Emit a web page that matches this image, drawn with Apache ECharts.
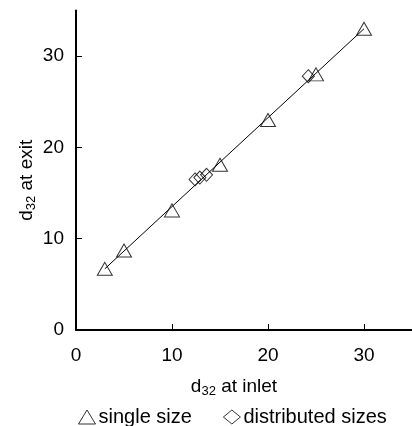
<!DOCTYPE html>
<html>
<head>
<meta charset="utf-8">
<script src="https://cdn.jsdelivr.net/npm/echarts@6/dist/echarts.min.js"></script>
<style>
html,body{margin:0;padding:0;background:#fff;}
#chart{width:412px;height:426px;}
</style>
</head>
<body>
<div id="chart"></div>
<script>
// Sauter mean diameter at inlet vs exit
const singleInlet = [3, 5, 10, 15, 20, 25, 30];
const singleExit = [6.7, 8.7, 13.1, 18.1, 23.0, 28.0, 33.0];
const distInlet = [12.4, 12.9, 13.6, 24.2];
const distExit = [16.5, 16.7, 17.0, 27.8];
const fitInlet = [3, 30];
const fitExit = [6.7, 33.0];
const tickValues = [0, 10, 20, 30];
const seriesNames = ['single size', 'distributed sizes'];

const zip = (a, b) => a.map((v, i) => [v, b[i]]);
const font = 'Liberation Sans, Arial, sans-serif';
const subRich = {
  n: { fontFamily: font, fontSize: 19, color: '#000' },
  s: { fontFamily: font, fontSize: 13, color: '#000', verticalAlign: 'bottom', padding: [9, 0, 0, 0] }
};

const chart = echarts.init(document.getElementById('chart'));
chart.setOption({
  animation: false,
  textStyle: { fontFamily: font },
  grid: { left: 76, top: 10.5, right: -6, bottom: 96, containLabel: false },
  legend: {
    data: seriesNames,
    top: 402,
    left: 73,
    itemGap: 31,
    itemWidth: 17,
    itemHeight: 14,
    itemStyle: { color: '#fff', borderColor: '#000', borderWidth: 1 },
    textStyle: { fontFamily: font, fontSize: 20, color: '#000', padding: [0, 0, 0, -2] }
  },
  xAxis: {
    type: 'value', min: 0, max: 35, interval: 10,
    name: '{n|d}{s|32}{n| at inlet}',
    nameLocation: 'middle', nameGap: 46, nameMoveOverlap: false,
    nameTextStyle: { rich: subRich, padding: [0, 20, 0, 0] },
    axisLine: { show: true, lineStyle: { color: '#000', width: 2 } },
    axisTick: { show: true, inside: true, length: 6, customValues: tickValues, lineStyle: { color: '#000', width: 1 } },
    axisLabel: { customValues: tickValues, color: '#000', fontSize: 19, margin: 16, fontFamily: font },
    splitLine: { show: false }
  },
  yAxis: {
    type: 'value', min: 0, max: 35, interval: 10,
    name: '{n|d}{s|32}{n| at exit}',
    nameLocation: 'middle', nameGap: 38, nameRotate: 90, nameMoveOverlap: false,
    nameTextStyle: { rich: subRich, padding: [0, 20, 0, 0] },
    axisLine: { show: true, lineStyle: { color: '#000', width: 2 } },
    axisTick: { show: true, inside: true, length: 6, customValues: tickValues, lineStyle: { color: '#000', width: 1 } },
    axisLabel: { customValues: tickValues, color: '#000', fontSize: 19, margin: 12, fontFamily: font },
    splitLine: { show: false }
  },
  series: [
    {
      name: 'fit', type: 'line', data: zip(fitInlet, fitExit),
      symbol: 'none', silent: true,
      lineStyle: { color: '#000', width: 1 }, z: 1
    },
    {
      name: seriesNames[0], type: 'scatter', data: zip(singleInlet, singleExit),
      symbol: 'triangle', symbolSize: [15, 13],
      itemStyle: { color: 'rgba(255,255,255,0)', borderColor: '#000', borderWidth: 1 }, z: 3
    },
    {
      name: seriesNames[1], type: 'scatter', data: zip(distInlet, distExit),
      symbol: 'diamond', symbolSize: [12, 13],
      itemStyle: { color: 'rgba(255,255,255,0)', borderColor: '#000', borderWidth: 1 }, z: 2
    }
  ]
});
</script>
</body>
</html>
